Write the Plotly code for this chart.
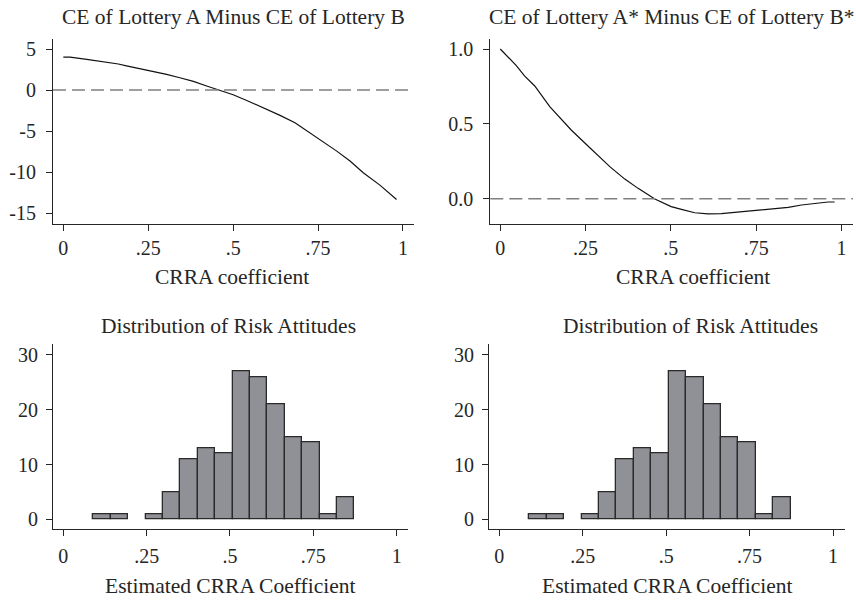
import plotly.graph_objects as go

# ---- data -------------------------------------------------------------
# CE(A) - CE(B) as a function of the CRRA coefficient
crra_ab = [0.0, 0.02, 0.069, 0.118, 0.162, 0.186, 0.255, 0.304, 0.343, 0.383,
           0.422, 0.461, 0.50, 0.54, 0.589, 0.638, 0.682, 0.726, 0.765, 0.805,
           0.844, 0.883, 0.932, 0.981]
diff_ab = [4.0, 4.0, 3.73, 3.45, 3.17, 2.95, 2.39, 1.91, 1.50, 1.06,
           0.49, 0.0, -0.57, -1.26, -2.15, -3.08, -3.98, -5.19, -6.33, -7.43,
           -8.64, -10.06, -11.57, -13.31]

# CE(A*) - CE(B*) as a function of the CRRA coefficient
crra_ab_star = [0.0, 0.022, 0.047, 0.071, 0.101, 0.145, 0.179, 0.208, 0.247, 0.282,
                0.321, 0.365, 0.404, 0.453, 0.501, 0.531, 0.570, 0.609, 0.648, 0.687,
                0.726, 0.765, 0.804, 0.844, 0.883, 0.922, 0.961, 0.980]
diff_ab_star = [1.0, 0.949, 0.889, 0.820, 0.753, 0.615, 0.530, 0.459, 0.374, 0.298,
                0.214, 0.131, 0.069, -0.002, -0.053, -0.071, -0.094, -0.102, -0.100, -0.091,
                -0.082, -0.078, -0.067, -0.058, -0.042, -0.031, -0.022, -0.022]

# histogram of estimated CRRA coefficients (frequency per bin)
bin_start = 0.09
bin_width = 0.0522
bin_counts = [1, 1, 0, 1, 5, 11, 13, 12, 27, 26, 21, 15, 14, 1, 4]

x_ticks = [0, 0.25, 0.5, 0.75, 1]
x_tick_text = ["0", ".25", ".5", ".75", "1"]
y_ticks_ab = [5, 0, -5, -10, -15]
y_ticks_ab_text = ["5", "0", "-5", "-10", "-15"]
y_ticks_ab_star = [1.0, 0.5, 0.0]
y_ticks_ab_star_text = ["1.0", "0.5", "0.0"]
y_ticks_hist = [0, 10, 20, 30]

# ---- layout helpers ---------------------------------------------------
W, H = 856, 601
FONT = "Liberation Serif"
INK = "#262626"


def xdom(a, b):
    return [a / W, b / W]


def ydom(top, bottom):
    return [1 - bottom / H, 1 - top / H]


axis_style = dict(
    showline=True, linecolor=INK, linewidth=1,
    ticks="outside", ticklen=6, tickwidth=1, tickcolor=INK,
    showgrid=False, zeroline=False, automargin=False,
    tickfont=dict(family=FONT, size=20, color=INK),
)

fig = go.Figure()

# top-left curve
fig.add_trace(go.Scatter(x=crra_ab, y=diff_ab, mode="lines",
                         line=dict(color="#111111", width=1.2),
                         xaxis="x", yaxis="y", showlegend=False))
# top-right curve
fig.add_trace(go.Scatter(x=crra_ab_star, y=diff_ab_star, mode="lines",
                         line=dict(color="#111111", width=1.2),
                         xaxis="x2", yaxis="y2", showlegend=False))

# histograms (identical in both bottom panels)
centers = [bin_start + (i + 0.5) * bin_width for i in range(len(bin_counts))]
hx = [c for c, n in zip(centers, bin_counts) if n > 0]
hy = [n for n in bin_counts if n > 0]
for xa, ya in (("x3", "y3"), ("x4", "y4")):
    fig.add_trace(go.Bar(x=hx, y=hy, width=bin_width,
                         marker=dict(color="#909196",
                                     line=dict(color="#2a2a2a", width=1.3)),
                         xaxis=xa, yaxis=ya, showlegend=False))

fig.update_layout(
    width=W, height=H,
    margin=dict(l=0, r=0, t=0, b=0),
    paper_bgcolor="white", plot_bgcolor="white",
    bargap=0,
    xaxis=dict(axis_style, domain=xdom(53, 414), range=[-0.0304, 1.0324],
               tickvals=x_ticks, ticktext=x_tick_text, anchor="y"),
    yaxis=dict(axis_style, domain=ydom(39, 224), range=[-16.30, 6.217],
               tickvals=y_ticks_ab, ticktext=y_ticks_ab_text, anchor="x",
               ticklabelstandoff=6),
    xaxis2=dict(axis_style, domain=xdom(490.3, 853), range=[-0.0293, 1.034],
                tickvals=x_ticks, ticktext=x_tick_text, anchor="y2"),
    yaxis2=dict(axis_style, domain=ydom(39, 224), range=[-0.169, 1.0668],
                tickvals=y_ticks_ab_star, ticktext=y_ticks_ab_star_text,
                anchor="x2", ticklabelstandoff=6),
    xaxis3=dict(axis_style, domain=xdom(53, 408.3), range=[-0.031, 1.035],
                tickvals=x_ticks, ticktext=x_tick_text, anchor="y3",
                ticklabelstandoff=3),
    yaxis3=dict(axis_style, domain=ydom(344.3, 529.3), range=[-1.825, 31.95],
                tickvals=y_ticks_hist, anchor="x3", ticklabelstandoff=4),
    xaxis4=dict(axis_style, domain=xdom(489, 844.7), range=[-0.031, 1.035],
                tickvals=x_ticks, ticktext=x_tick_text, anchor="y4",
                ticklabelstandoff=3),
    yaxis4=dict(axis_style, domain=ydom(344.3, 529.3), range=[-1.825, 31.95],
                tickvals=y_ticks_hist, anchor="x4", ticklabelstandoff=4),
)

# dashed zero reference lines
for xr, yr in (("x domain", "y"), ("x2 domain", "y2")):
    fig.add_shape(type="line", xref=xr, yref=yr, x0=0, x1=1, y0=0, y1=0,
                  line=dict(color="#808080", width=1.5, dash="13px,6px"))

# titles and axis labels
texts = [
    ("CE of Lottery A Minus CE of Lottery B", 233, 17),
    ("CE of Lottery A* Minus CE of Lottery B*", 671, 17),
    ("CRRA coefficient", 232, 277),
    ("CRRA coefficient", 693, 277),
    ("Distribution of Risk Attitudes", 228.5, 326),
    ("Distribution of Risk Attitudes", 690.5, 326),
    ("Estimated CRRA Coefficient", 230.5, 586),
    ("Estimated CRRA Coefficient", 667, 586),
]
for txt, px, py in texts:
    fig.add_annotation(text=txt, xref="paper", yref="paper",
                       x=px / W, y=1 - py / H, xanchor="center", yanchor="middle",
                       showarrow=False,
                       font=dict(family=FONT, size=21.5, color=INK))

fig.write_html("out.html")
